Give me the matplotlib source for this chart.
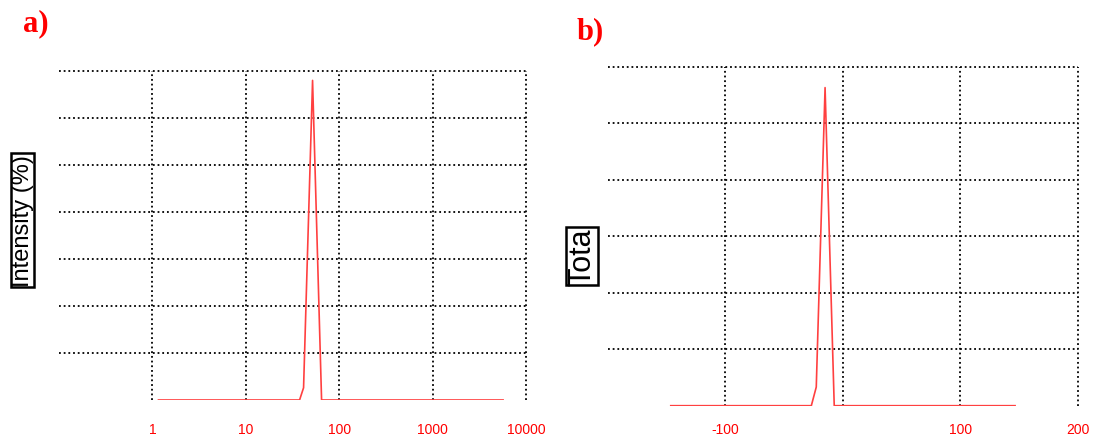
import matplotlib.pyplot as plt

plt.rcParams['font.family'] = ['Liberation Sans', 'DejaVu Sans']

# a) size distribution by intensity (log x axis)
size_nm = [1.16, 37.6, 41.5, 51.8, 64.7, 5675]
intensity = [0, 0, 1.3, 34.0, 0, 0]
size_ticks = [1, 10, 100, 1000, 10000]
size_labels = ['1', '10', '100', '1000', '10000']

# b) zeta potential distribution
zeta_mv = [-146.6, -26.9, -22.7, -15.2, -7.4, 146.6]
counts = [0, 0, 33000, 563000, 0, 0]
zeta_ticks = [-100, 0, 100, 200]
zeta_labels = ['-100', '', '100', '200']

red_line = '#ff4040'
dots = (0, (1, 1.6))

fig = plt.figure(figsize=(10.93, 4.39), dpi=100)

# panel a
ax1 = fig.add_axes([0.054, 0.0866, 0.4273, 0.7494])
ax1.plot(size_nm, intensity, color=red_line, lw=1.2)
ax1.set_xscale('log')
ax1.set_xlim(0.1, 10000)
ax1.set_ylim(0, 35)
ax1.set_xticks(size_ticks)
ax1.set_xticklabels(size_labels)
ax1.xaxis.set_minor_locator(plt.NullLocator())
ax1.set_yticks([5, 10, 15, 20, 25, 30, 35])
ax1.tick_params(axis='x', length=0, pad=16, colors='red', labelsize=10)
ax1.tick_params(axis='y', length=0, labelleft=False)

# panel b
ax2 = fig.add_axes([0.5563, 0.0736, 0.4298, 0.7722])
ax2.plot(zeta_mv, counts, color=red_line, lw=1.2)
ax2.set_xlim(-200, 200)
ax2.set_ylim(0, 600000)
ax2.set_xticks(zeta_ticks)
ax2.set_xticklabels(zeta_labels)
ax2.set_yticks([100000, 200000, 300000, 400000, 500000, 600000])
ax2.tick_params(axis='x', length=0, pad=11.5, colors='red', labelsize=10)
ax2.tick_params(axis='y', length=0, labelleft=False)

for ax in (ax1, ax2):
    for s in ax.spines.values():
        s.set_visible(False)
    ax.grid(True, linestyle=dots, color='black', lw=1.3)
    for gl in ax.get_xgridlines() + ax.get_ygridlines():
        gl.set_clip_on(False)

box = dict(facecolor='white', edgecolor='black', linewidth=1.8, pad=0.5)
fig.text(22.5 / 1093, 1 - 221 / 439, 'Intensity (%)', rotation=90, fontsize=17,
         ha='center', va='center', bbox=box)
fig.text(582 / 1093, 1 - 257 / 439, 'Tota', rotation=90, fontsize=22,
         ha='center', va='center', bbox=box)

fig.text(36 / 1093, 1 - 24 / 439, 'a)', color='red', fontsize=22, fontweight='bold',
         family='Liberation Serif', ha='center', va='center')
fig.text(590 / 1093, 1 - 32 / 439, 'b)', color='red', fontsize=22, fontweight='bold',
         family='Liberation Serif', ha='center', va='center')

fig.savefig('out.png', dpi=100)
